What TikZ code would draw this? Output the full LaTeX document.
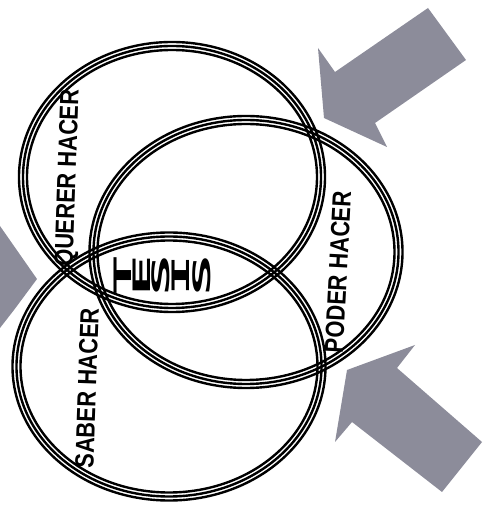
\documentclass[tikz,border=0pt]{standalone}
\usepackage{fontspec}
\setmainfont{Liberation Sans}
\newfontfamily\tesisfont{DejaVu Sans Mono}
\definecolor{arrowgray}{RGB}{140,140,154}
\tikzset{
  ringline/.style={draw=black, line width=2.4pt},
  bigarrow/.style={fill=arrowgray, draw=none},
  ringlabel/.style={font=\bfseries\fontsize{23.5}{24}\selectfont, inner sep=0pt, text=black},
  tesisletter/.style={font=\tesisfont\bfseries\fontsize{24}{25}\selectfont, inner sep=0pt, rotate=90}
}
\newcommand{\tripring}[3]{%
  \foreach \d in {-4,0,4}{%
    \draw[ringline] (#1) ellipse [x radius={(#2+\d)*1pt}, y radius={(#3+\d)*1pt}];
  }}
\begin{document}
\begin{tikzpicture}[x=1pt,y=1pt]
\useasboundingbox (0,0) rectangle (483,516);
% arrows
\fill[bigarrow] (428,508) -- (466,456) -- (375,393) -- (387,369) -- (324,398) -- (318,468) -- (335,444) -- cycle;
\fill[bigarrow] (415,171) -- (347,146) -- (335,74) -- (352,94) -- (442,24) -- (482,74) -- (397,148) -- cycle;
\fill[bigarrow] (0,290) -- (37,237) -- (14,206) -- (0,188) -- cycle;
% centres
\coordinate (A) at (172,339);
\coordinate (B) at (246,264);
\coordinate (C) at (169,149.5);
\tripring{A}{149}{131}
\tripring{B}{152.5}{132}
\tripring{C}{152.5}{130}
% labels
\node[ringlabel, rotate=88] (querer) at (69,338) {\scalebox{0.93}[1.12]{QUERER HACER}};
\node[ringlabel, rotate=87] (poder) at (338,244) {\scalebox{0.93}[1.12]{PODER HACER}};
\node[ringlabel, rotate=88] (saber) at (87,128) {\scalebox{0.93}[1.12]{SABER HACER}};
% TESIS
\node[tesisletter] (t1) at (123,240) {\scalebox{2.9}[1]{T}};
\node[tesisletter] (t2) at (142,240) {\scalebox{2.9}[1]{E}};
\node[tesisletter] (t3) at (161,240) {\scalebox{2.9}[1]{S}};
\node[tesisletter] (t4) at (181,240) {\scalebox{2.9}[1]{I}};
\node[tesisletter] (t5) at (202,240) {\scalebox{2.9}[1]{S}};
\end{tikzpicture}
\end{document}
